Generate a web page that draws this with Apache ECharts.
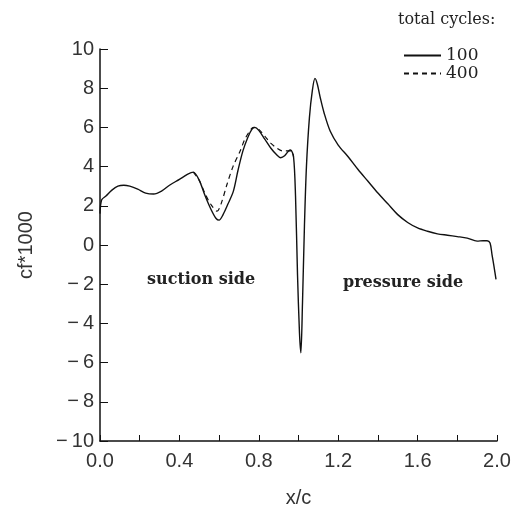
<!DOCTYPE html>
<html><head><meta charset="utf-8">
<script src="https://cdn.jsdelivr.net/npm/echarts@6/dist/echarts.min.js"></script>
<style>html,body{margin:0;padding:0;background:#fff}#c{width:522px;height:517px}</style>
</head><body><div id="c"></div>
<script>
// x/c positions and cf*1000 values
const seriesNames = ['100', '400'];
const cycles100 = [[0,1.6],[0.008,2.3],[0.03,2.5],[0.06,2.8],[0.09,3.0],[0.12,3.05],[0.15,3.0],[0.19,2.85],[0.23,2.65],[0.27,2.6],[0.31,2.75],[0.35,3.05],[0.40,3.35],[0.44,3.6],[0.47,3.72],[0.50,3.3],[0.53,2.5],[0.56,1.8],[0.585,1.35],[0.60,1.27],[0.62,1.55],[0.645,2.1],[0.672,2.75],[0.695,3.8],[0.72,4.8],[0.745,5.5],[0.765,5.9],[0.78,6.0],[0.80,5.85],[0.83,5.4],[0.86,4.95],[0.89,4.6],[0.91,4.45],[0.93,4.55],[0.95,4.8],[0.96,4.85],[0.975,4.5],[0.985,2.5],[0.995,-1.5],[1.005,-4.5],[1.012,-5.5],[1.02,-3],[1.03,1],[1.04,4],[1.055,6.5],[1.07,7.9],[1.083,8.5],[1.095,8.2],[1.11,7.5],[1.13,6.7],[1.16,5.8],[1.2,5.1],[1.25,4.5],[1.3,3.85],[1.35,3.25],[1.40,2.65],[1.45,2.1],[1.5,1.55],[1.55,1.15],[1.6,0.87],[1.65,0.7],[1.7,0.57],[1.75,0.5],[1.8,0.43],[1.85,0.35],[1.9,0.2],[1.93,0.22],[1.95,0.22],[1.965,0.1],[1.975,-0.5],[1.985,-1.1],[1.995,-1.75]];
const cycles400 = [[0.47,3.72],[0.50,3.3],[0.53,2.6],[0.56,2.05],[0.59,1.73],[0.61,2.1],[0.64,3.1],[0.67,4.0],[0.705,4.77],[0.73,5.4],[0.76,5.9],[0.775,6.0],[0.80,5.9],[0.83,5.55],[0.86,5.2],[0.89,4.95],[0.92,4.8],[0.95,4.8],[0.965,4.8],[0.975,4.5]];
const xTicks = [0.0, 0.4, 0.8, 1.2, 1.6, 2.0];
const yTicks = [-10,-8,-6,-4,-2,0,2,4,6,8,10];

const chart = echarts.init(document.getElementById('c'), null, {renderer:'canvas'});
const axisFont = {fontFamily:'Liberation Sans', fontSize:20, color:'#333'};
chart.setOption({
  animation:false,
  backgroundColor:'#fff',
  grid:{left:100, right:25, top:49, bottom:76},
  legend:{
    orient:'vertical', left:398, top:42, itemGap:1, itemWidth:37, itemHeight:15,
    itemStyle:{opacity:0},
    textStyle:{fontFamily:'DejaVu Serif', fontSize:17, color:'#222'},
    data:seriesNames
  },
  graphic:[
    {type:'text', left:398, top:12, style:{text:'total cycles:', font:'16px "DejaVu Serif"', fill:'#222'}},
    {type:'text', left:147, top:272, style:{text:'suction side', font:'bold 16px "DejaVu Serif"', fill:'#222'}},
    {type:'text', left:343, top:275, style:{text:'pressure side', font:'bold 16px "DejaVu Serif"', fill:'#222'}}
  ],
  xAxis:{
    type:'value', min:0, max:2, interval:0.2,
    name:'x/c', nameLocation:'middle', nameGap:47,
    nameTextStyle:{fontFamily:'Liberation Sans', fontSize:20, color:'#333'},
    axisLine:{onZero:false, lineStyle:{color:'#111', width:1.5}},
    axisTick:{inside:true, length:6, lineStyle:{color:'#111'}},
    splitLine:{show:false},
    axisLabel:Object.assign({margin:10, formatter:function(v){
      const r = xTicks.find(t=>Math.abs(t-v)<1e-6);
      return r===undefined ? '' : r.toFixed(1);
    }}, axisFont)
  },
  yAxis:{
    type:'value', min:-10, max:10, interval:2,
    name:'cf*1000', nameLocation:'middle', nameGap:64, nameRotate:90,
    nameTextStyle:{fontFamily:'Liberation Sans', fontSize:20, color:'#333'},
    axisLine:{onZero:false, lineStyle:{color:'#111', width:1.5}},
    axisTick:{inside:true, length:8, lineStyle:{color:'#111'}},
    splitLine:{show:false},
    axisLabel:Object.assign({margin:6, formatter:function(v){
      const r = yTicks.find(t=>t===v);
      if (r===undefined) return '';
      return r<0 ? '\u2212\u2009' + Math.abs(r) : String(r);
    }}, axisFont)
  },
  series:[
    {name:seriesNames[0], type:'line', data:cycles100, symbol:'none', smooth:0.3, z:3,
     lineStyle:{color:'#111', width:1.4, type:'solid'}, itemStyle:{color:'#111'}},
    {name:seriesNames[1], type:'line', data:cycles400, symbol:'none', smooth:0.3, z:2,
     lineStyle:{color:'#111', width:1.2, type:[5,4]}, itemStyle:{color:'#111'}}
  ]
});
</script></body></html>
